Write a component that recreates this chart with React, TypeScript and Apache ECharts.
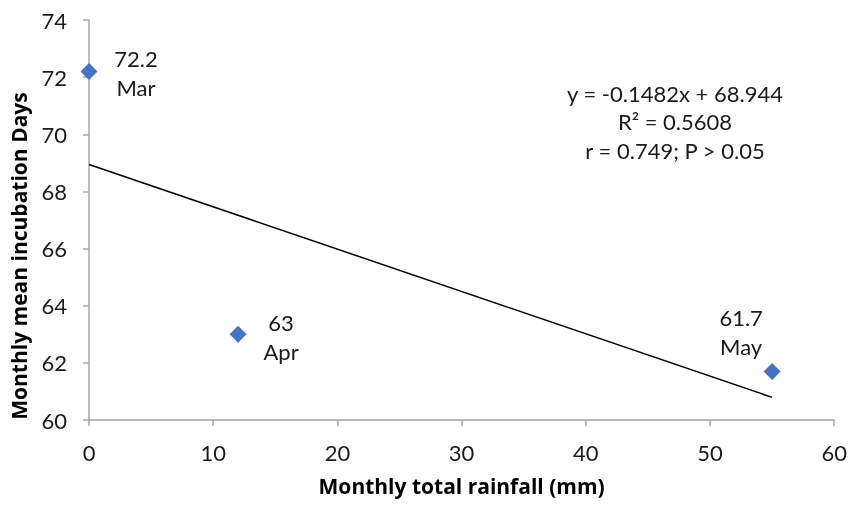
import React, { useEffect, useRef } from "react";
import * as echarts from "echarts";

const rainfall = [0, 12, 55];
const incubation = [72.2, 63, 61.7];
const months = ["Mar", "Apr", "May"];
const slope = -0.1482;
const intercept = 68.944;
const trendX = [0, 55];
const equationLines = ["y = -0.1482x + 68.944", "R² = 0.5608", "r = 0.749; P > 0.05"];
const xTitle = "Monthly total rainfall (mm)";
const yTitle = "Monthly mean incubation Days";

const FONT = "Lato, 'Open Sans', sans-serif";
const BOLD_FONT = "'Open Sans', Lato, sans-serif";
const TEXT = "#1a1a1a";

export default function App() {
  const ref = useRef<HTMLDivElement>(null);
  useEffect(() => {
    if (!ref.current) return;
    const chart = echarts.init(ref.current, null, { renderer: "svg" });
    const labelOffsets = [
      [47, 2],
      [43, 3],
      [-31, -39],
    ];
    chart.setOption({
      animation: false,
      textStyle: { fontFamily: FONT },
      grid: { left: 89, right: 13, top: 20, bottom: 85 },
      xAxis: {
        type: "value",
        min: 0,
        max: 60,
        interval: 10,
        name: xTitle,
        nameLocation: "middle",
        nameGap: 55,
        nameTextStyle: { fontFamily: BOLD_FONT, fontWeight: "bold", fontSize: 21, color: "#000" },
        axisLine: { show: true, lineStyle: { color: "#a6a6a6", width: 1.5 } },
        axisTick: { show: true, length: 6, lineStyle: { color: "#a6a6a6", width: 1.5 } },
        axisLabel: { fontFamily: FONT, fontSize: 22, color: TEXT, margin: 21 },
        splitLine: { show: false },
      },
      yAxis: {
        type: "value",
        min: 60,
        max: 74,
        interval: 2,
        axisLine: { show: true, lineStyle: { color: "#a6a6a6", width: 1.5 } },
        axisTick: { show: true, length: 6, lineStyle: { color: "#a6a6a6", width: 1.5 } },
        axisLabel: { fontFamily: FONT, fontSize: 22, color: TEXT, margin: 22 },
        splitLine: { show: false },
      },
      series: [
        {
          type: "line",
          data: trendX.map((x) => [x, intercept + slope * x]),
          symbol: "none",
          lineStyle: { color: "#000", width: 1.5 },
          silent: true,
          z: 1,
        },
        {
          type: "scatter",
          symbol: "diamond",
          symbolSize: 17,
          itemStyle: { color: "#4472C4", opacity: 1 },
          z: 3,
          data: rainfall.map((x, i) => ({
            value: [x, incubation[i]],
            label: {
              show: true,
              position: "inside",
              offset: labelOffsets[i],
              formatter: `${incubation[i]}\n${months[i]}`,
              fontFamily: FONT,
              fontSize: 22,
              lineHeight: 29,
              color: TEXT,
              align: "center",
              verticalAlign: "middle",
            },
          })),
        },
      ],
      graphic: [
        {
          type: "text",
          x: 675,
          y: 79,
          style: {
            text: equationLines.join("\n"),
            fontFamily: FONT,
            fontSize: 22,
            lineHeight: 28.5,
            fill: TEXT,
            align: "center",
          },
        },
        {
          type: "text",
          x: 19,
          y: 256,
          rotation: Math.PI / 2,
          style: {
            text: yTitle,
            fontFamily: BOLD_FONT,
            fontWeight: "bold",
            fontSize: 21,
            fill: "#000",
            align: "center",
            verticalAlign: "middle",
          },
        },
      ],
    });
    return () => chart.dispose();
  }, []);
  return (
    <div
      ref={ref}
      style={{ position: "fixed", left: 0, top: 0, width: 850, height: 505 }}
    />
  );
}
